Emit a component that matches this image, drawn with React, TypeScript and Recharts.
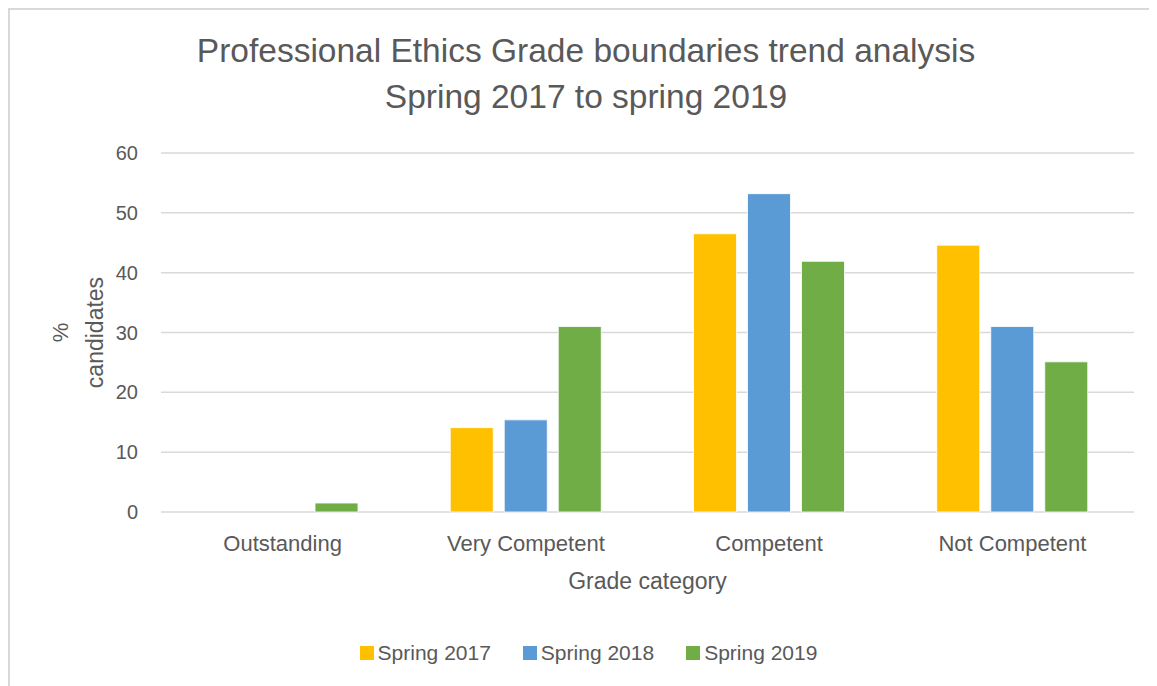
import React from 'react';
import { BarChart, Bar, XAxis, YAxis, CartesianGrid, Legend, Label } from 'recharts';

const categories = ['Outstanding', 'Very Competent', 'Competent', 'Not Competent'];
const spring2017 = [0, 14.1, 46.5, 44.6];
const spring2018 = [0, 15.4, 53.2, 31.0];
const spring2019 = [1.5, 31.0, 41.9, 25.1];
const yTicks = [0, 10, 20, 30, 40, 50, 60];
const seriesNames = ['Spring 2017', 'Spring 2018', 'Spring 2019'];
const seriesColors = ['#FFC000', '#5B9BD5', '#70AD47'];
const titleLines = ['Professional Ethics Grade boundaries trend analysis', 'Spring 2017 to spring 2019'];

const data = categories.map((c, i) => ({
  category: c,
  s2017: spring2017[i],
  s2018: spring2018[i],
  s2019: spring2019[i],
}));

const FONT = '"Liberation Sans", Arial, sans-serif';
const TEXT = '#595959';

const YAxisTitle = (props: any) => {
  const vb = props.viewBox || { x: 91, y: 143, width: 60, height: 359 };
  const cy = vb.y + vb.height / 2;
  const x1 = vb.x - 33;
  const x2 = vb.x + 2;
  return (
    <g>
      <text x={x1} y={cy} transform={`rotate(-90, ${x1}, ${cy})`} textAnchor="middle" fill={TEXT} fontSize={22} fontFamily={FONT}>%</text>
      <text x={x2} y={cy} transform={`rotate(-90, ${x2}, ${cy})`} textAnchor="middle" fill={TEXT} fontSize={23} fontFamily={FONT}>candidates</text>
    </g>
  );
};

const LegendContent = (props: any) => {
  const payload = props.payload || [];
  return (
    <div style={{ display: 'flex', justifyContent: 'center', gap: 32, height: 24, alignItems: 'center', fontFamily: FONT, fontSize: 21, lineHeight: '24px', color: TEXT }}>
      {payload.map((p: any) => (
        <div key={p.value} style={{ display: 'flex', alignItems: 'center' }}>
          <span style={{ display: 'inline-block', width: 14, height: 14, background: p.color, marginRight: 4 }} />
          <span>{p.value}</span>
        </div>
      ))}
    </div>
  );
};

export default function App() {
  return (
    <div style={{ position: 'relative', width: 1147, height: 676, borderLeft: '2px solid #d9d9d9', borderTop: '2px solid #d9d9d9', background: '#fff', fontFamily: FONT }}>
      <div style={{ position: 'absolute', left: 0, top: 18, width: 1152, textAlign: 'center', fontSize: 33.5, lineHeight: '46px', color: TEXT, fontFamily: FONT, zIndex: 2 }}>
        {titleLines.map((t) => (
          <div key={t}>{t}</div>
        ))}
      </div>
      <BarChart
        width={1147}
        height={676}
        data={data}
        margin={{ top: 143, right: 23, bottom: 134, left: 91 }}
        barSize={43}
        barGap={11}
      >
        <CartesianGrid vertical={false} stroke="#d9d9d9" strokeWidth={1.5} />
        <XAxis
          dataKey="category"
          height={40}
          axisLine={false}
          tickLine={false}
          tickMargin={17}
          tick={{ fill: TEXT, fontSize: 22, fontFamily: FONT }}
        >
          <Label value="Grade category" position="bottom" offset={21} fill={TEXT} fontSize={23} fontFamily={FONT} />
        </XAxis>
        <YAxis
          width={60}
          domain={[0, 60]}
          ticks={yTicks}
          axisLine={false}
          tickLine={false}
          tickMargin={17}
          tick={{ fill: TEXT, fontSize: 20, fontFamily: FONT }}
          label={<YAxisTitle />}
        />
        <Legend
          layout="horizontal"
          verticalAlign="middle"
          align="center"
          wrapperStyle={{ top: 631, left: 0, width: 1157 }}
          content={<LegendContent />}
        />
        <Bar dataKey="s2017" name={seriesNames[0]} fill={seriesColors[0]} stroke="#ffffff" strokeWidth={0.8} isAnimationActive={false} />
        <Bar dataKey="s2018" name={seriesNames[1]} fill={seriesColors[1]} stroke="#ffffff" strokeWidth={0.8} isAnimationActive={false} />
        <Bar dataKey="s2019" name={seriesNames[2]} fill={seriesColors[2]} stroke="#ffffff" strokeWidth={0.8} isAnimationActive={false} />
      </BarChart>
    </div>
  );
}
